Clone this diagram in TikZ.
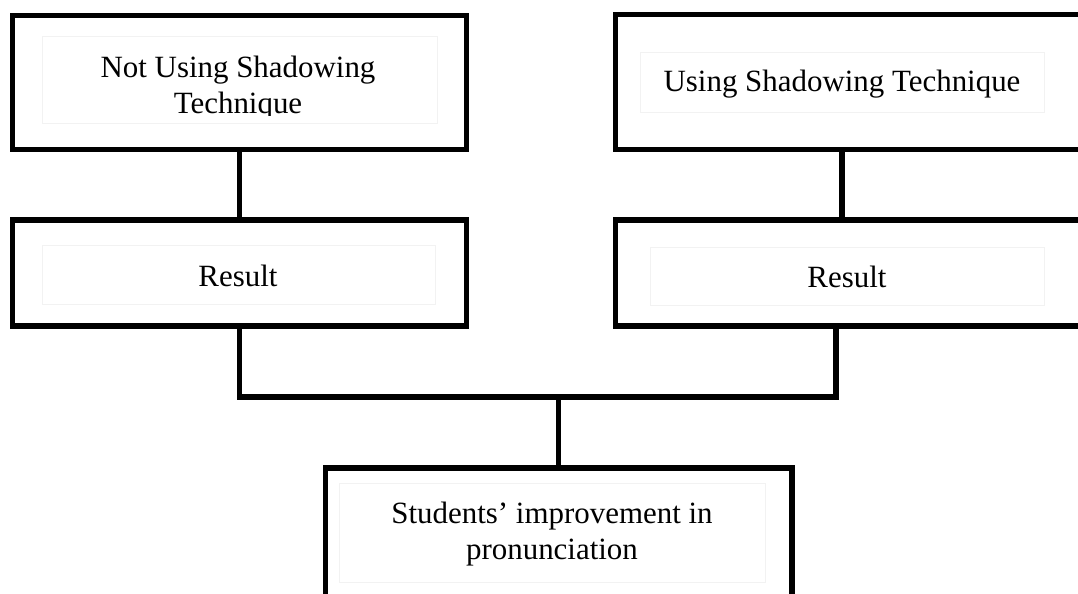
\documentclass[tikz,border=0pt]{standalone}
\usepackage{fontspec}
\setmainfont{Liberation Serif}
\usepackage{tikz}
\usetikzlibrary{positioning}

\begin{document}
\begin{tikzpicture}[
    x=0.02cm, y=-0.02cm,
    % Caja exterior gruesa
    outbox/.style={
        draw=black,
        line width=2.9pt,
        fill=white,
        inner sep=0pt
    },
    % Caja interior casi invisible
    inbox/.style={
        draw=black!5,
        line width=0.5pt,
        inner sep=0pt
    },
    % Texto de las cajas
    label/.style={
        font=\fontsize{17.6}{20.5}\selectfont,
        align=center,
        inner sep=0pt
    },
    % Lineas de union
    link/.style={
        draw=black,
        line width=2.9pt
    }
]

    % --- 0. MARCO ---
    \useasboundingbox (0,0) rectangle (1078,593);
    \clip (0,0) rectangle (1078,593);

    % --- 1. CAJAS SUPERIORES ---
    \node[outbox, minimum width=9.08cm, minimum height=2.68cm] (notbox) at (239.5,82.5) {};
    \node[inbox, minimum width=7.9cm, minimum height=1.74cm] (notin) at (239.5,79.5) {};
    \begin{scope}
        \clip (42,36) rectangle (437,115);
        \node[label] (nottxt) at (238,87.6) {Not Using Shadowing\\Technique};
    \end{scope}

    \node[outbox, minimum width=10.09cm, minimum height=2.7cm] (usebox) at (867.75,82) {};
    \node[inbox, minimum width=8.08cm, minimum height=1.2cm] (usein) at (842,82) {};
    \node[label] (usetxt) at (842,84.6) {Using Shadowing Technique};

    % --- 2. CAJAS DE RESULTADO ---
    \node[outbox, minimum width=9.08cm, minimum height=2.12cm] (notres) at (239.5,273) {};
    \node[inbox, minimum width=7.86cm, minimum height=1.18cm] (notresin) at (238.5,274.5) {};
    \node[label] (notrestxt) at (238,275.5) {Result};

    \node[outbox, minimum width=10.09cm, minimum height=2.12cm] (useres) at (867.75,273) {};
    \node[inbox, minimum width=7.88cm, minimum height=1.16cm] (useresin) at (847,276) {};
    \node[label] (userestxt) at (847,276.5) {Result};

    % --- 3. CAJA FINAL ---
    \node[outbox, minimum width=9.34cm, minimum height=3.44cm] (impr) at (558.5,554) {};
    \node[inbox, minimum width=8.52cm, minimum height=1.98cm] (imprin) at (552,532.5) {};
    \node[label] (imprtxt) at (552,534) {Students’ improvement in\\pronunciation};

    % --- 4. UNIONES ---
    \coordinate (joinr) at (836,397);
    \coordinate (joinm) at (558.5,397);

    \draw[link] (notbox.south) -- (notres.north);
    \draw[link] (usebox.south -| usein) -- (useres.north -| usein);
    \draw[link] (notres.south) |- (joinr) -- (joinr |- useres.south);
    \draw[link] (joinm) -- (impr.north);

\end{tikzpicture}
\end{document}
